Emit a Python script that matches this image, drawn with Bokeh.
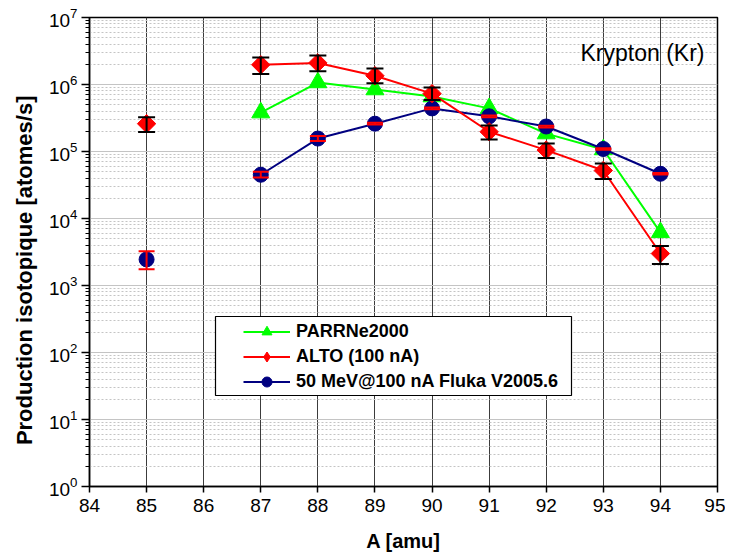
import numpy as np
from bokeh.plotting import figure
from bokeh.models import (FixedTicker, LogTickFormatter, Legend, LegendItem,
                          BoxAnnotation, Label, Range1d)
from bokeh.embed import file_html
from bokeh.resources import INLINE

# ---- data ----
x_ticks = [84, 85, 86, 87, 88, 89, 90, 91, 92, 93, 94, 95]
y_ticks = [1e0, 1e1, 1e2, 1e3, 1e4, 1e5, 1e6, 1e7]
y_minor = [m * d for d in [1e0, 1e1, 1e2, 1e3, 1e4, 1e5, 1e6] for m in [2, 3, 4, 5, 6, 7, 8, 9]]

A_parrne = [87, 88, 89, 90, 91, 92, 93, 94]
parrne = [3.8e5, 1.07e6, 8.4e5, 6.6e5, 4.4e5, 1.85e5, 1.07e5, 6.2e3]

A_alto = [85, 87, 88, 89, 90, 91, 92, 93, 94]
alto = [2.6e5, 1.97e6, 2.1e6, 1.35e6, 7.3e5, 1.97e5, 1.05e5, 5.2e4, 3.0e3]
alto_lo = [1.95e5, 1.43e6, 1.58e6, 1.04e6, 5.85e5, 1.51e5, 8.0e4, 3.9e4, 2.1e3]
alto_hi = [3.25e5, 2.53e6, 2.71e6, 1.73e6, 9.0e5, 2.44e5, 1.32e5, 6.6e4, 3.9e3]

A_fluka = [85, 87, 88, 89, 90, 91, 92, 93, 94]
fluka = [2.45e3, 4.5e4, 1.56e5, 2.6e5, 4.4e5, 3.35e5, 2.36e5, 1.09e5, 4.65e4]
fluka_lo = [1.75e3, 4.1e4, 1.43e5, 2.52e5, 4.27e5, 3.25e5, 2.29e5, 1.06e5, 4.52e4]
fluka_hi = [3.25e3, 5.0e4, 1.70e5, 2.68e5, 4.53e5, 3.45e5, 2.43e5, 1.12e5, 4.78e4]

GREEN = "#00ff00"
RED = "#ff0000"
NAVY = "#000080"
FONT = "Liberation Sans"

p = figure(width=725, height=556, x_range=Range1d(84, 95), y_range=Range1d(1, 1e7),
           y_axis_type="log", output_backend="svg", toolbar_location=None,
           min_border_left=89, min_border_right=8, min_border_top=17, min_border_bottom=70)
p.background_fill_color = "white"
p.border_fill_color = "white"
p.outline_line_color = "black"
p.outline_line_width = 1.5
p.outline_line_alpha = 1.0

# axes
p.xaxis.ticker = FixedTicker(ticks=x_ticks)
p.yaxis.ticker = FixedTicker(ticks=y_ticks, minor_ticks=y_minor)
p.yaxis.formatter = LogTickFormatter()
for ax in (p.xaxis[0], p.yaxis[0]):
    ax.axis_line_color = "black"
    ax.axis_line_width = 1.5
    ax.major_tick_line_color = "black"
    ax.major_tick_line_width = 1.5
    ax.major_tick_in = 0
    ax.minor_tick_in = 0
    ax.major_label_text_font = FONT
    ax.major_label_text_font_size = "19px"
    ax.major_label_text_color = "black"
    ax.axis_label_text_font = FONT
    ax.axis_label_text_font_style = "bold"
    ax.axis_label_text_color = "black"
p.xaxis.major_tick_out = 6
p.xaxis.minor_tick_line_color = None
p.xaxis.major_label_standoff = 6
p.xaxis.axis_label = "A [amu]"
p.xaxis.axis_label_text_font_size = "20px"
p.xaxis.axis_label_standoff = 15
p.yaxis.major_tick_out = 8
p.yaxis.minor_tick_out = 4
p.yaxis.minor_tick_line_color = "black"
p.yaxis.major_label_standoff = 4
# trailing no-break spaces shift the visible label down, as in the reference
p.yaxis.axis_label = "Production isotopique [atomes/s]" + "\u00a0" * 6
p.yaxis.axis_label_text_font_size = "22px"
p.yaxis.axis_label_standoff = 9

# grids
p.xgrid.grid_line_color = "#3c3c3c"
p.xgrid.grid_line_width = 1
p.ygrid.grid_line_color = "#c4c4c4"
p.ygrid.grid_line_width = 1
p.ygrid.minor_grid_line_color = "#c4c4c4"
p.ygrid.minor_grid_line_dash = "2 2"

# PARRNe2000
g_line = p.line(A_parrne, parrne, line_color=GREEN, line_width=2)
g_pts = p.scatter(A_parrne, parrne, marker="triangle", size=18, fill_color=GREEN, line_color=GREEN)

# Fluka
b_line = p.line(A_fluka[1:], fluka[1:], line_color=NAVY, line_width=2)
b_pts = p.scatter(A_fluka, fluka, marker="circle", size=15, fill_color=NAVY, line_color=NAVY)
p.segment(A_fluka, fluka_lo, A_fluka, fluka_hi, line_color=RED, line_width=2)
p.scatter(A_fluka, fluka_lo, marker="dash", size=16, line_color=RED, line_width=2)
p.scatter(A_fluka, fluka_hi, marker="dash", size=16, line_color=RED, line_width=2)

# ALTO
r_line = p.line(A_alto[1:], alto[1:], line_color=RED, line_width=2)
r_pts = p.scatter(A_alto, alto, marker="square", angle=np.pi / 4, size=13,
                  fill_color=RED, line_color=RED)
p.segment(A_alto, alto_lo, A_alto, alto_hi, line_color="black", line_width=2)
p.scatter(A_alto, alto_lo, marker="dash", size=17, line_color="black", line_width=2)
p.scatter(A_alto, alto_hi, marker="dash", size=17, line_color="black", line_width=2)
# hidden diamond renderer, used only for the legend's glyph
r_leg = p.scatter(A_alto, alto, marker="diamond", size=13, fill_color=RED,
                  line_color=RED, visible=False)

# legend box + legend
box = BoxAnnotation(left=126, right=482, bottom=91, top=170,
                    left_units="screen", right_units="screen",
                    bottom_units="screen", top_units="screen",
                    fill_color="white", fill_alpha=1.0,
                    line_color="black", line_width=1.2, line_alpha=1.0)
p.add_layout(box)

legend = Legend(items=[
    LegendItem(label="PARRNe2000", renderers=[g_line, g_pts]),
    LegendItem(label="ALTO (100 nA)", renderers=[r_line, r_leg]),
    LegendItem(label="50 MeV@100 nA Fluka V2005.6", renderers=[b_line, b_pts]),
], location=(154, 92))
legend.background_fill_alpha = 0
legend.border_line_color = None
legend.padding = 0
legend.margin = 0
legend.spacing = 0
legend.glyph_width = 47
legend.glyph_height = 25
legend.label_height = 25
legend.label_standoff = 6
legend.label_text_font = FONT
legend.label_text_font_style = "bold"
legend.label_text_font_size = "18px"
legend.label_text_color = "black"
p.add_layout(legend)

p.add_layout(Label(x=491, y=434, x_units="screen", y_units="screen",
                   text="Krypton (Kr)", text_font=FONT, text_font_size="23px",
                   text_color="black", text_baseline="alphabetic"))

with open("out.html", "w") as f:
    f.write(file_html(p, INLINE))
